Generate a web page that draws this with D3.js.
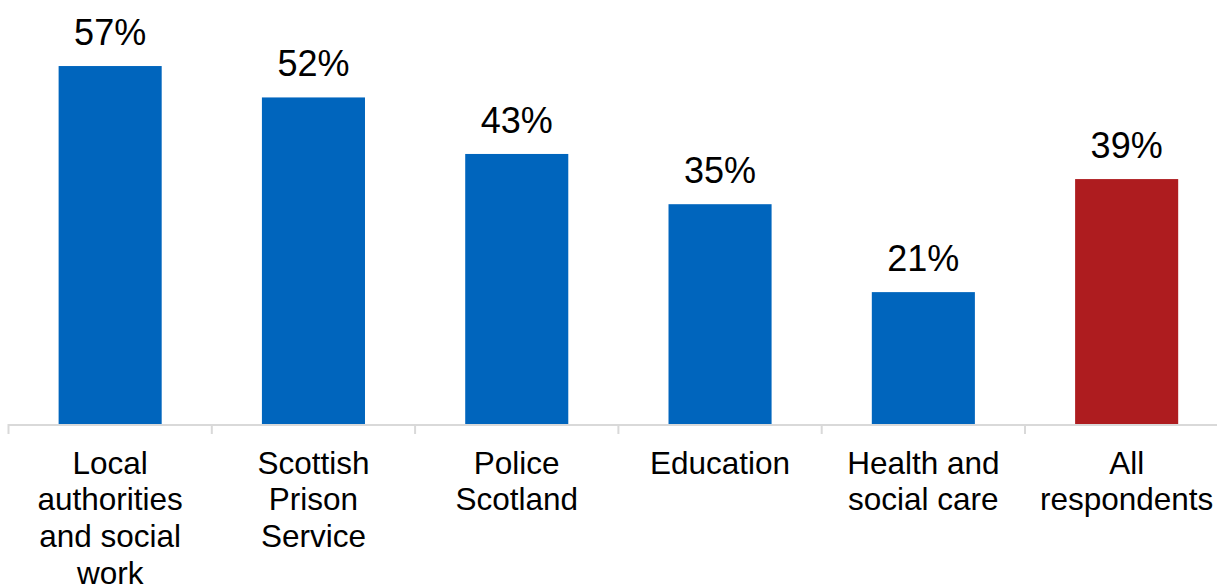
<!DOCTYPE html>
<html>
<head>
<meta charset="utf-8">
<script src="https://cdn.jsdelivr.net/npm/d3@7/dist/d3.min.js"></script>
<style>
  html, body { margin: 0; padding: 0; background: #ffffff; }
  svg { display: block; font-family: "Liberation Sans", Arial, sans-serif; }
</style>
</head>
<body>
<svg id="chart" width="1217" height="586"></svg>
<script>
// Share of respondents by sector
const categories = [
  ["Local", "authorities", "and social", "work"],
  ["Scottish", "Prison", "Service"],
  ["Police", "Scotland"],
  ["Education"],
  ["Health and", "social care"],
  ["All", "respondents"]
];
const values = [57, 52, 43, 35, 21, 39];
const valueLabels = ["57%", "52%", "43%", "35%", "21%", "39%"];
const barColors = ["#0065bd", "#0065bd", "#0065bd", "#0065bd", "#0065bd", "#ae1c1f"];

const svg = d3.select("#chart");
const baseY = 424;
const left = 8.5;
const step = 203.3;

const x = d3.scaleBand()
  .domain(d3.range(values.length))
  .range([left, left + step * values.length])
  .paddingInner(0.493)
  .paddingOuter(0.2465);

const y = d3.scaleLinear()
  .domain([0, 60])
  .range([baseY, baseY - 60 * 6.28]);

// bars
svg.append("g")
  .selectAll("rect")
  .data(values)
  .join("rect")
  .attr("x", (d, i) => x(i))
  .attr("width", x.bandwidth())
  .attr("y", d => y(d))
  .attr("height", d => y(0) - y(d))
  .attr("fill", (d, i) => barColors[i]);

// value labels
svg.append("g")
  .selectAll("text")
  .data(values)
  .join("text")
  .attr("x", (d, i) => x(i) + x.bandwidth() / 2)
  .attr("y", d => y(d) - 21)
  .attr("text-anchor", "middle")
  .attr("font-size", 36)
  .attr("fill", "#000")
  .text((d, i) => valueLabels[i]);

// category axis: baseline with ticks at band boundaries
const axis = svg.append("g");
axis.append("line")
  .attr("x1", left)
  .attr("x2", 1217)
  .attr("y1", baseY + 1)
  .attr("y2", baseY + 1)
  .attr("stroke", "#d9d9d9")
  .attr("stroke-width", 2);

axis.selectAll("line.tick")
  .data(d3.range(values.length + 1))
  .join("line")
  .attr("class", "tick")
  .attr("x1", i => left + i * x.step())
  .attr("x2", i => left + i * x.step())
  .attr("y1", baseY)
  .attr("y2", baseY + 10)
  .attr("stroke", "#d9d9d9")
  .attr("stroke-width", 2);

// category labels, wrapped over several lines
const labels = axis.selectAll("text.cat")
  .data(categories)
  .join("text")
  .attr("class", "cat")
  .attr("text-anchor", "middle")
  .attr("font-size", 31.5)
  .attr("fill", "#000");

labels.each(function(lines, i) {
  const t = d3.select(this);
  const cx = x(i) + x.bandwidth() / 2;
  lines.forEach((line, j) => {
    t.append("tspan")
      .attr("x", cx)
      .attr("y", 473.5 + j * 36.7)
      .text(line);
  });
});
</script>
</body>
</html>
